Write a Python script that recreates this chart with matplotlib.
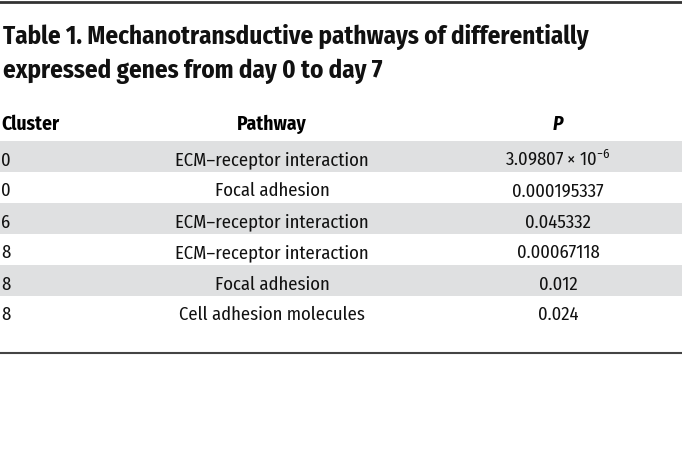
import matplotlib
matplotlib.use("agg")
import matplotlib.pyplot as plt
from matplotlib import font_manager

# table contents
title_lines = ["Table 1. Mechanotransductive pathways of differentially",
               "expressed genes from day 0 to day 7"]
headers = ["Cluster", "Pathway", "P"]
clusters = ["0", "0", "6", "8", "8", "8"]
pathways = ["ECM–receptor interaction", "Focal adhesion", "ECM–receptor interaction",
            "ECM–receptor interaction", "Focal adhesion", "Cell adhesion molecules"]
pvalues = [r"3.09807 × 10$^{\mathregular{−6}}$", "0.000195337", "0.045332",
           "0.00067118", "0.012", "0.024"]

names = {f.name for f in font_manager.fontManager.ttflist}
font = next((f for f in ["Fira Sans Condensed", "Barlow Semi Condensed", "Roboto Condensed",
                         "Asap Condensed"] if f in names), "DejaVu Sans")
plt.rcParams["font.family"] = [font, "DejaVu Sans"]
plt.rcParams["mathtext.fontset"] = "custom"
plt.rcParams["mathtext.rm"] = font

W, H = 682, 466
fig = plt.figure(figsize=(W / 100, H / 100), dpi=100)
ax = fig.add_axes([0, 0, 1, 1])
ax.set_xlim(0, W)
ax.set_ylim(H, 0)
ax.axis("off")

# rules
ax.axhline(1.5, color="#333333", lw=2)
ax.axhline(353, color="#444444", lw=1.5)

# title
for i, line in enumerate(title_lines):
    ax.text(3, 44.5 + i * 33.3, line, fontsize=18, fontweight="bold",
            va="baseline", ha="left", color="#111111")

# header
hy = 130
col_x = [1, 272, 558]
ax.text(col_x[0], hy, headers[0], fontsize=14, fontweight="bold", va="baseline", ha="left")
ax.text(col_x[1], hy, headers[1], fontsize=14, fontweight="bold", va="baseline", ha="center")
ax.text(col_x[2], hy, headers[2], fontsize=14, fontweight="bold", style="italic",
        va="baseline", ha="center")

row_top = 141
row_h = 31
for i, (c, pw, pv) in enumerate(zip(clusters, pathways, pvalues)):
    y0 = row_top + i * row_h
    if i % 2 == 0:
        ax.axhspan(y0, y0 + row_h, color="#dfe0e1", lw=0)
    yb = y0 + 24.5
    ax.text(col_x[0], yb, c, fontsize=13.4, va="baseline", ha="left", color="#111111")
    ax.text(col_x[1], yb, pw, fontsize=13.4, va="baseline", ha="center", color="#111111")
    ax.text(col_x[2], yb, pv, fontsize=13.4, va="baseline", ha="center", color="#111111")

fig.savefig("out.png", dpi=100)
